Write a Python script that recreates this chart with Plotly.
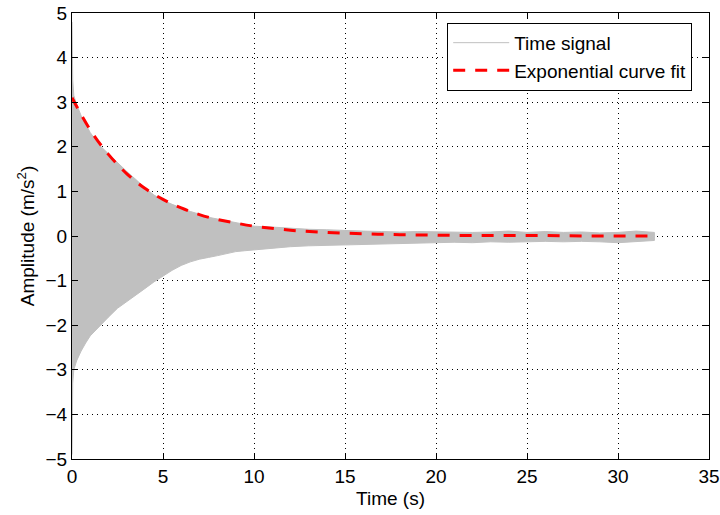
import plotly.graph_objects as go

# envelope of the decaying time signal
t_env = [0, 0.04, 0.1, 0.25, 0.5, 0.75, 1, 1.5, 2, 2.5, 3, 3.5, 4, 4.5, 5, 5.5, 6, 6.5, 7, 7.5,
         8, 8.5, 9, 9.5, 10, 11, 12, 13, 14, 15, 16, 17, 18, 19, 20, 21, 22, 23, 24, 25,
         26, 27, 28, 29, 30, 31, 32]
upper = [4.8, 3.5, 3.15, 2.95, 2.7, 2.5, 2.32, 2.04, 1.84, 1.64, 1.45, 1.27, 1.08, 0.92, 0.80, 0.71,
         0.63, 0.55, 0.49, 0.42, 0.38, 0.34, 0.29, 0.26, 0.22, 0.20, 0.17, 0.15, 0.14, 0.12, 0.11,
         0.10, 0.09, 0.10, 0.09, 0.08, 0.08, 0.09, 0.11, 0.08, 0.10, 0.08, 0.09, 0.07, 0.08, 0.11, 0.08]
lower = [-4.9, -3.3, -3.0, -2.8, -2.58, -2.4, -2.24, -2.03, -1.82, -1.62, -1.46, -1.33, -1.18, -1.03,
         -0.90, -0.77, -0.66, -0.58, -0.52, -0.48, -0.44, -0.40, -0.35, -0.33, -0.30, -0.27, -0.24,
         -0.22, -0.20, -0.19, -0.19, -0.18, -0.17, -0.16, -0.15, -0.14, -0.15, -0.13, -0.14, -0.13,
         -0.12, -0.13, -0.12, -0.13, -0.15, -0.12, -0.10]

# exponential curve fit
t_fit = [0, 1, 2, 3, 4, 5, 6, 7, 8, 9, 10, 12, 14, 16, 18, 20, 22, 24, 26, 28, 30, 32]
y_fit = [3.10, 2.38, 1.83, 1.40, 1.07, 0.82, 0.63, 0.48, 0.37, 0.29, 0.22, 0.13, 0.08, 0.05,
         0.03, 0.02, 0.01, 0.01, 0.01, 0.0, 0.0, 0.0]

x_ticks = [0, 5, 10, 15, 20, 25, 30, 35]
y_ticks = [-5, -4, -3, -2, -1, 0, 1, 2, 3, 4, 5]

gray = "#c0c0c0"
font = dict(family="Liberation Sans, Arial, Helvetica, sans-serif", size=19, color="black")
legend_font = dict(family="Liberation Sans, Arial, Helvetica, sans-serif", size=19, color="black")

fig = go.Figure()
fig.add_trace(go.Scatter(x=t_env + t_env[::-1], y=upper + lower[::-1], fill="toself",
                         fillcolor=gray, mode="lines", line=dict(color=gray, width=1),
                         showlegend=False, hoverinfo="skip"))
fig.add_trace(go.Scatter(x=[None], y=[None], mode="lines", name="Time signal",
                         line=dict(color=gray, width=1)))
fig.add_trace(go.Scatter(x=t_fit, y=y_fit, mode="lines", name="Exponential curve fit",
                         line=dict(color="red", width=3, dash="12px,10px", shape="spline")))

axis = dict(showline=True, linecolor="black", linewidth=1, mirror="ticks",
            ticks="inside", ticklen=6, tickcolor="black",
            showgrid=True, gridcolor="black", gridwidth=1, griddash="1px,4px",
            zeroline=False, tickfont=font, automargin=False, ticklabeloverflow="allow")

fig.update_xaxes(range=[0, 35], tickvals=x_ticks, title=dict(text="Time (s)", font=font, standoff=5), **axis)
fig.update_yaxes(range=[-5, 5], tickvals=y_ticks, ticktext=[str(v).replace("-", "\u2212") for v in y_ticks],
                 title=dict(text="Amplitude (m/s<sup>2</sup>)", font=font, standoff=5), **axis)

fig.update_layout(
    width=720, height=515,
    margin=dict(l=72, r=11, t=13, b=56),
    plot_bgcolor="white", paper_bgcolor="white",
    font=font,
    legend=dict(x=0.589, y=0.978, xanchor="left", yanchor="top",
                bordercolor="black", borderwidth=1, bgcolor="white",
                font=legend_font, itemwidth=56, tracegroupgap=0),
)

# drop the default 8px page margin so the figure fills the window
fig.write_html("out.html", config={"displayModeBar": False},
               post_script="document.body.style.margin='0px';")
